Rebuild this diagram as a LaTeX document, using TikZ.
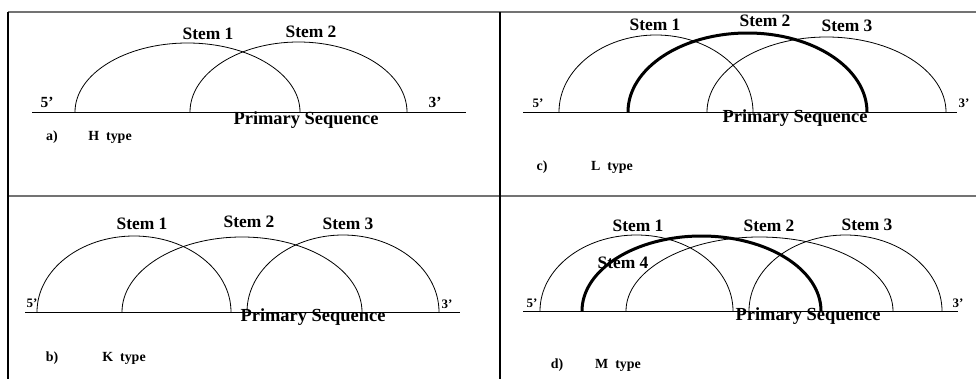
\documentclass[tikz,border=0pt]{standalone}
\usepackage{fontspec}
\setmainfont{Liberation Serif}
\begin{document}
\begin{tikzpicture}[x=1bp,y=-1bp,
  lbl/.style={inner sep=0pt,anchor=base,font=\bfseries\fontsize{17.5}{20}\selectfont},
  seq/.style={inner sep=0pt,anchor=base,font=\bfseries\fontsize{18.5}{21}\selectfont},
  endl/.style={inner sep=0pt,anchor=base,font=\bfseries\fontsize{13}{15}\selectfont},
  endlbig/.style={inner sep=0pt,anchor=base,font=\bfseries\fontsize{15.5}{17}\selectfont},
  typ/.style={inner sep=0pt,anchor=base,font=\bfseries\fontsize{14}{16}\selectfont},
  thin arc/.style={line width=0.8bp},
  thick arc/.style={line width=3bp},
  baseln/.style={line width=1bp},
  hrule/.style={line width=1.3bp,draw=black!55},
  vrule/.style={line width=1.3bp,draw=black}]
\useasboundingbox (0,0) rectangle (976,379);
% frame
\draw[hrule] (8,12) -- (976,12);
\draw[hrule] (8,196) -- (976,196);
\draw[vrule] (8,12) -- (8,379);
\draw[vrule] (500,12) -- (500,379);

% ---- panel a ----
\coordinate (aL) at (32,112); \coordinate (aR) at (466,112);
\draw[baseln] (aL) -- (aR);
\draw[thin arc] (75,112) arc[start angle=180,end angle=0,x radius=112.5bp,y radius=69bp];
\draw[thin arc] (190,112) arc[start angle=180,end angle=0,x radius=108.5bp,y radius=70bp];
\node[lbl] (a1) at (208,39) {Stem 1};
\node[lbl] (a2) at (311,37) {Stem 2};
\node[endlbig] (a5) at (47,107) {5’};
\node[endlbig] (a3) at (435,107) {3’};
\node[seq] (aps) at (306,124) {Primary Sequence};
\node[typ] (al) at (52,140) {a)};
\node[typ] (at) at (110,140) {H\hspace{0.5em}type};

% ---- panel c ----
\coordinate (cL) at (523,112); \coordinate (cR) at (957,112);
\draw[baseln] (cL) -- (cR);
\draw[thin arc] (559,112) arc[start angle=180,end angle=0,x radius=97bp,y radius=77bp];
\draw[thick arc] (628,112) arc[start angle=180,end angle=0,x radius=119.5bp,y radius=79bp];
\draw[thin arc] (707,112) arc[start angle=180,end angle=0,x radius=119.5bp,y radius=75bp];
\node[lbl] (c1) at (655,30) {Stem 1};
\node[lbl] (c2) at (765,26.7) {Stem 2};
\node[lbl] (c3) at (847,31) {Stem 3};
\node[endl] (c5) at (538,107) {5’};
\node[endl] (c3e) at (964,107) {3’};
\node[seq] (cps) at (795,122.7) {Primary Sequence};
\node[typ] (cl) at (542,170) {c)};
\node[typ] (ct) at (612,170) {L\hspace{0.5em}type};

% ---- panel b ----
\coordinate (bL) at (25,312); \coordinate (bR) at (460,312);
\draw[baseln] (bL) -- (bR);
\draw[thin arc] (37,312) arc[start angle=180,end angle=0,x radius=97bp,y radius=76bp];
\draw[thin arc] (122,312) arc[start angle=180,end angle=0,x radius=120bp,y radius=75bp];
\draw[thin arc] (247,312) arc[start angle=180,end angle=0,x radius=96bp,y radius=77bp];
\node[lbl] (b1) at (142,229) {Stem 1};
\node[lbl] (b2) at (249,227.7) {Stem 2};
\node[lbl] (b3) at (348,229) {Stem 3};
\node[endl] (b5) at (32,307.7) {5’};
\node[endl] (b3e) at (447,308) {3’};
\node[seq] (bps) at (313,321.7) {Primary Sequence};
\node[typ] (bl) at (52,361.7) {b)};
\node[typ] (bt) at (124,361.7) {K\hspace{0.5em}type};

% ---- panel d ----
\coordinate (dL) at (523,311); \coordinate (dR) at (958,311);
\draw[baseln] (dL) -- (dR);
\draw[thin arc] (540,311) arc[start angle=180,end angle=0,x radius=96.5bp,y radius=76bp];
\draw[thick arc] (582,311) arc[start angle=180,end angle=0,x radius=119.5bp,y radius=75bp];
\draw[thin arc] (626,311) arc[start angle=180,end angle=0,x radius=133.5bp,y radius=74bp];
\draw[thin arc] (749,311) arc[start angle=180,end angle=0,x radius=96.5bp,y radius=76bp];
\node[lbl] (d1) at (638,231.7) {Stem 1};
\node[lbl] (d2) at (769,231.7) {Stem 2};
\node[lbl] (d3) at (867,230.7) {Stem 3};
\node[lbl] (d4) at (623,268) {Stem 4};
\node[endl] (d5) at (532,307) {5’};
\node[endl] (d3e) at (958,307) {3’};
\node[seq] (dps) at (808,320) {Primary Sequence};
\node[typ] (dl) at (557,368) {d)};
\node[typ] (dt) at (618,368) {M\hspace{0.5em}type};
\end{tikzpicture}
\end{document}
